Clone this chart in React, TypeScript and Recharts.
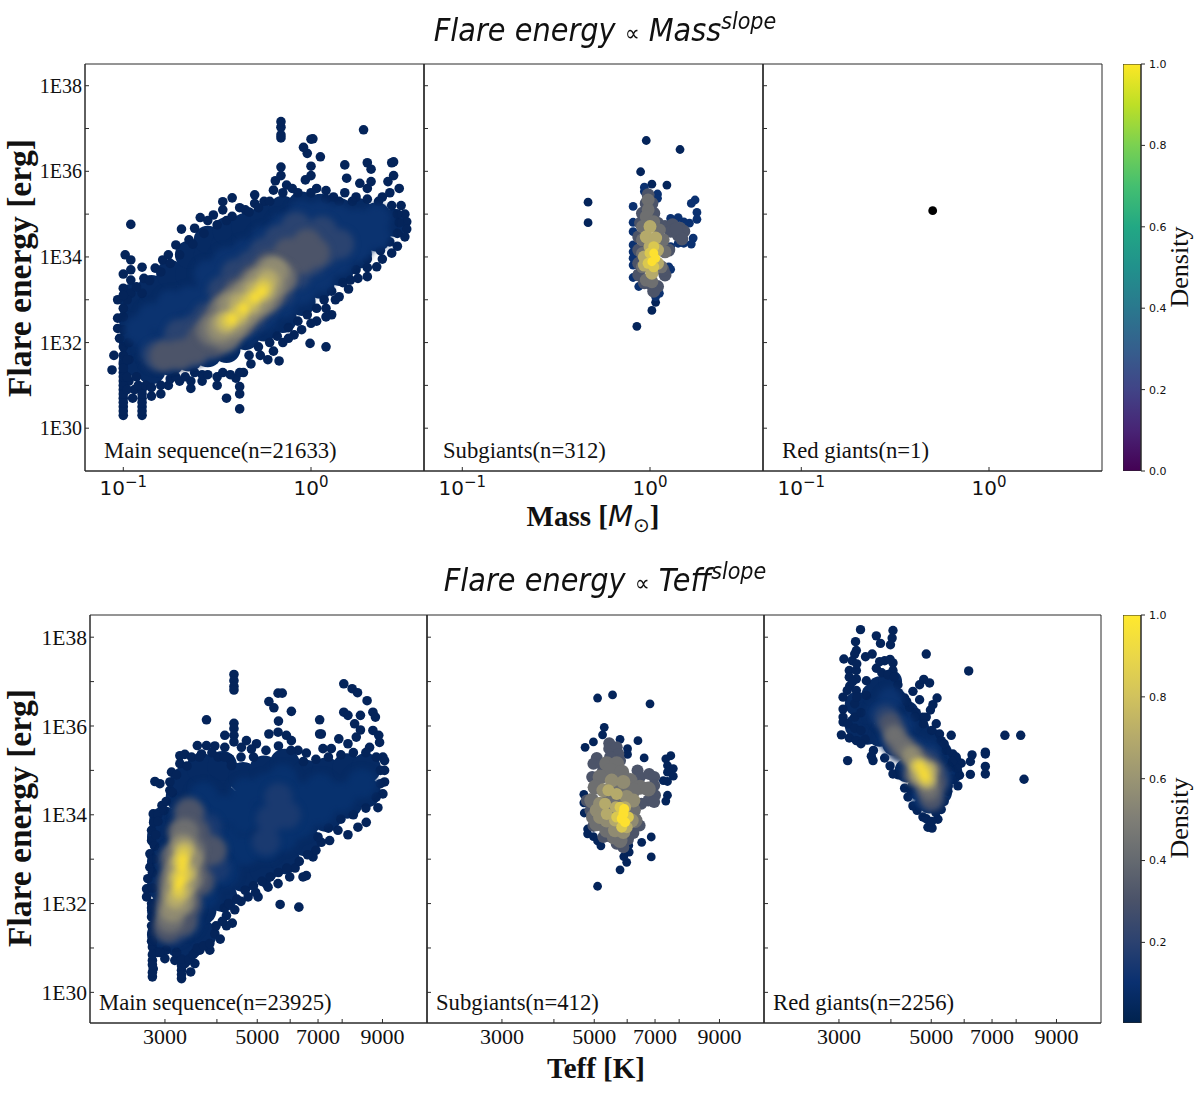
import { Bar, BarChart, ReferenceArea, Scatter, ScatterChart, XAxis, YAxis } from "recharts";

type Pt = [number, number];

// x = log10(mass) or log10(Teff), y = log10(flare energy)
// -------------------------
// MASS / MAIN SEQUENCE
// -------------------------
const msMassEdge: Pt[] = [
  [-1, 30.3], [-1, 30.5], [-1, 30.7], [-1, 30.9], [-1, 31.1], [-1, 31.3], [-1, 31.5], [-1, 31.7], [-1, 31.9], [-1.02, 32.1],
  [-1.06, 31.36], [-1.05, 31.7], [-1.03, 32.33], [-1.03, 32.57], [-1, 32.8], [-1.03, 33], [-1, 33.27], [-1, 33.6], [-0.99, 34.05], [-0.96, 34.76],
  [-0.96, 33.93], [-0.96, 33.7], [-0.96, 33.46], [-0.96, 33.15], [-0.9, 33.76], [-0.89, 33.5], [-0.9, 33.15], [-0.83, 33.74], [-0.79, 33.93], [-0.76, 34.05],
  [-0.72, 34.28], [-0.69, 34.65], [-0.65, 34.4], [-0.62, 34.67], [-0.59, 34.92], [-0.55, 34.85], [-0.52, 34.98], [-0.47, 35.29], [-0.47, 35.1], [-0.45, 34.85],
  [-0.42, 35.38], [-0.38, 35.15], [-0.35, 35.1], [-0.3, 35.45], [-0.3, 35.25], [-0.25, 35.3], [-0.2, 35.56], [-0.19, 35.78], [-0.16, 35.9], [-0.16, 36.1],
  [-0.16, 36.78], [-0.16, 36.85], [-0.16, 37.03], [-0.16, 37.16], [-0.13, 35.68], [-0.1, 35.6], [-0.03, 35.8], [0, 35.9], [0, 36.12], [-0.02, 36.42],
  [-0.04, 36.56], [0, 36.75], [0.01, 36.76], [0.05, 36.34], [0.03, 35.6], [0.08, 35.55], [0.12, 35.4], [0.18, 35.5], [0.18, 36.15], [0.19, 35.84],
  [0.24, 35.4], [0.26, 35.72], [0.3, 35.6], [0.28, 36.97], [0.3, 36.2], [0.32, 36.05], [0.32, 35.76], [0.38, 35.4], [0.42, 35.5], [0.41, 35.76],
  [0.43, 36.2], [0.44, 36.22], [0.44, 35.9], [0.47, 35.6], [0.48, 35.2], [0.5, 35], [0.51, 34.82], [0.51, 34.65], [0.5, 34.47], [0.46, 34.25],
  [0.43, 34.09], [0.38, 33.95], [0.35, 33.77], [0.3, 33.75], [0.3, 33.54], [0.25, 33.5], [0.21, 33.46], [0.2, 33.25], [0.15, 33.07], [0.13, 33],
  [0.11, 32.65], [0.08, 32.6], [0.08, 32.8], [0.08, 31.9], [0.03, 32.5], [0, 32.45], [-0.005, 31.98], [-0.05, 32.3], [-0.09, 32.18], [-0.12, 32.1],
  [-0.15, 32], [-0.2, 31.8], [-0.17, 31.57], [-0.23, 31.6], [-0.27, 31.7], [-0.32, 31.5], [-0.36, 31.3], [-0.4, 31.17], [-0.38, 30.97], [-0.38, 30.8],
  [-0.38, 30.45], [-0.45, 30.7], [-0.5, 31], [-0.5, 31.2], [-0.58, 31.1], [-0.58, 31.25], [-0.64, 30.93], [-0.64, 31.1], [-0.7, 31.1], [-0.76, 31],
  [-0.8, 30.8], [-0.85, 30.75], [-0.94, 30.9], [-0.95, 30.7], [-0.9, 30.7], [-0.9, 30.5], [-0.9, 30.3], [-0.9, 30.9], [-0.97, 31.1], [-0.97, 31.6],
];
const msMassRim: Pt[] = [
  [-1, 30.4], [-1, 30.6], [-1, 30.8], [-1, 31], [-1, 31.2], [-1, 31.4], [-0.98, 31.6], [-0.98, 31.2], [-0.98, 30.9], [-0.9, 30.4], [-0.9, 30.6], [-0.9, 30.8], [-0.92, 31], [-0.93, 31.2], [-0.88, 31],
  [-0.85, 30.95], [-0.8, 31], [-0.75, 31.15], [-0.72, 31.2], [-0.67, 31.2], [-0.62, 31.3], [-0.55, 31.25], [-0.47, 31.3], [-0.43, 31.25], [-0.38, 31.3], [-0.33, 31.7], [-0.28, 31.9], [-0.22, 32],
  [-0.18, 32.15], [-0.12, 32.35], [-0.07, 32.5], [-0.02, 32.65], [0.03, 32.8], [0.07, 33], [0.11, 33.2], [0.17, 33.4], [0.24, 33.7], [0.3, 33.95], [0.37, 34.15], [0.42, 34.35], [0.46, 34.55],
  [0.47, 34.8], [0.46, 35], [0.43, 35.2], [0.36, 35.3], [0.3, 35.35], [0.22, 35.3], [0.15, 35.3], [0.08, 35.35], [0, 35.5], [-0.07, 35.5], [-0.15, 35.5], [-0.22, 35.3], [-0.28, 35.15], [-0.33, 35.05],
  [-0.42, 34.95], [-0.5, 34.75], [-0.57, 34.55], [-0.63, 34.3], [-0.7, 34.05], [-0.75, 33.85], [-0.8, 33.65], [-0.86, 33.45], [-0.93, 33.3], [-0.98, 33], [-1, 32.6], [-1, 32.3], [-0.97, 32], [-1, 33.1],
];
const msMassFill: Pt[] = [
  [-0.95, 31.55], [-0.95, 32.05], [-0.95, 32.55], [-0.95, 33.05], [-0.85, 31.35], [-0.85, 31.85], [-0.85, 32.35], [-0.85, 32.85], [-0.85, 33.25],
  [-0.75, 31.55], [-0.75, 32.05], [-0.75, 32.55], [-0.75, 33.05], [-0.75, 33.6], [-0.65, 31.65], [-0.65, 32.15], [-0.65, 32.65], [-0.65, 33.15], [-0.65, 33.6], [-0.65, 34.05],
  [-0.55, 31.75], [-0.55, 32.25], [-0.55, 32.75], [-0.55, 33.25], [-0.55, 33.75], [-0.55, 34.05], [-0.55, 34.4], [-0.46, 34.25], [-0.45, 31.85], [-0.45, 32.35], [-0.45, 32.85], [-0.45, 33.35], [-0.45, 33.85], [-0.45, 34.6],
  [-0.35, 32.15], [-0.35, 32.65], [-0.35, 33.2], [-0.35, 33.7], [-0.35, 34.2], [-0.35, 34.45], [-0.35, 34.7], [-0.25, 32.35], [-0.25, 32.9], [-0.25, 33.4], [-0.25, 33.9], [-0.25, 34.4], [-0.25, 34.65], [-0.25, 34.9],
  [-0.15, 32.55], [-0.15, 33.1], [-0.15, 33.6], [-0.15, 34.1], [-0.15, 34.6], [-0.15, 35.1], [-0.05, 32.95], [-0.05, 33.45], [-0.05, 33.95], [-0.05, 34.45], [-0.05, 35.2],
  [0.05, 33.35], [0.05, 33.85], [0.05, 34.35], [0.05, 34.85], [0.05, 35.15], [0.15, 33.65], [0.15, 34.15], [0.15, 34.65], [0.15, 35.05],
  [0.25, 34.05], [0.25, 34.55], [0.25, 35.05], [0.35, 34.45], [0.35, 34.95], [0.44, 34.8],
];
const msMassBlue: Pt[] = [
  [-0.92, 32.3], [-0.85, 31.9], [-0.85, 32.6], [-0.75, 31.7], [-0.75, 32.3], [-0.75, 32.9], [-0.65, 31.8], [-0.65, 32.4], [-0.65, 33], [-0.55, 31.9], [-0.55, 32.5], [-0.55, 33.1], [-0.55, 33.6],
  [-0.45, 32.1], [-0.45, 32.7], [-0.45, 33.3], [-0.45, 33.9], [-0.35, 32.3], [-0.35, 32.9], [-0.35, 33.5], [-0.35, 34.1], [-0.25, 32.6], [-0.25, 33.2], [-0.25, 33.8], [-0.25, 34.4],
  [-0.15, 32.9], [-0.15, 33.5], [-0.15, 34.1], [-0.15, 34.7], [-0.05, 33.2], [-0.05, 33.8], [-0.05, 34.4], [-0.05, 35], [0.05, 33.5], [0.05, 34.1], [0.05, 34.7], [0.05, 35],
  [0.15, 33.9], [0.15, 34.5], [0.15, 34.9], [0.25, 34.2], [0.25, 34.8], [0.35, 34.5], [0.35, 34.9],
];
const msMassSlate: Pt[] = [
  [-0.82, 31.7], [-0.75, 31.8], [-0.7, 31.75], [-0.7, 32.2], [-0.62, 31.8], [-0.62, 32.3], [-0.55, 32], [-0.55, 32.6], [-0.47, 32.1], [-0.47, 32.7], [-0.47, 33.2],
  [-0.4, 32.4], [-0.4, 33], [-0.4, 33.6], [-0.32, 32.6], [-0.32, 33.2], [-0.32, 33.8], [-0.25, 32.9], [-0.25, 33.5], [-0.25, 34.1], [-0.17, 33.2], [-0.17, 33.8], [-0.17, 34.4],
  [-0.08, 33.6], [-0.08, 34.2], [-0.08, 34.7], [0, 33.9], [0, 34.4], [0.06, 34.1], [0.06, 34.6], [0.15, 34.3],
];
const msMassGrayBlue: Pt[] = [
  [-0.78, 31.68], [-0.7, 31.72], [-0.62, 31.85], [-0.58, 32.1], [-0.52, 32], [-0.5, 32.5], [-0.44, 32.3], [-0.44, 32.9], [-0.38, 32.5], [-0.38, 33.2],
  [-0.3, 32.9], [-0.3, 33.5], [-0.22, 33.2], [-0.22, 33.8], [-0.15, 33.6], [-0.12, 34.1], [-0.05, 33.95], [-0.02, 34.3], [0.02, 34.1],
];
const msMassGray: Pt[] = [
  [-0.52, 32.3], [-0.46, 32.2], [-0.46, 32.7], [-0.4, 32.5], [-0.38, 33], [-0.32, 32.85], [-0.3, 33.3], [-0.24, 33.1], [-0.22, 33.6], [-0.17, 33.5],
];
const msMassKhaki: Pt[] = [[-0.48, 32.35], [-0.42, 32.45], [-0.42, 32.85], [-0.36, 32.7], [-0.34, 33.1], [-0.28, 33], [-0.27, 33.4], [-0.22, 33.35], [-0.2, 33.65]];
const msMassSand: Pt[] = [[-0.46, 32.45], [-0.4, 32.6], [-0.38, 32.9], [-0.32, 32.9], [-0.3, 33.2], [-0.25, 33.2], [-0.23, 33.45]];
const msMassGold: Pt[] = [[-0.44, 32.5], [-0.38, 32.7], [-0.33, 32.95], [-0.28, 33.15], [-0.25, 33.3]];
const msMassPeak: Pt[] = [[-0.42, 32.55], [-0.36, 32.8], [-0.3, 33.05], [-0.26, 33.2]];

// -------------------------
// MASS / SUBGIANTS
// -------------------------
const sgMassEdge: Pt[] = [[-0.33, 35.28], [-0.33, 34.8], [-0.02, 36.72], [0.16, 36.51], [-0.05, 35.99], [0.01, 35.7], [0.09, 35.68], [-0.07, 32.38], [0.01, 32.75], [0.03, 32.94]];
const sgMassBlue: Pt[] = [
  [-0.03, 35.63], [-0.03, 35.53], [0.04, 35.47], [0.04, 35.37], [-0.09, 35.18], [-0.09, 34.81], [-0.09, 34.59], [-0.09, 34.28], [-0.09, 34.12], [-0.09, 33.97], [-0.09, 33.81], [-0.09, 33.52],
  [-0.06, 33.31], [0.03, 33.07], [0.05, 33.15], [0.24, 35.33], [0.22, 35.25], [0.25, 35.04], [0.25, 34.88], [0.21, 34.79], [0.23, 34.44], [0.22, 34.3], [0.18, 34.32], [0.15, 34.32], [0.11, 34.24],
  [0.1, 33.77], [0.11, 33.71], [0.18, 34.82], [0.15, 34.92], [0.11, 34.9],
];
const sgMassSlate: Pt[] = [
  [-0.01, 35.45], [-0.02, 35.25], [0.01, 35.25], [-0.04, 35.02], [0.02, 35.02], [-0.05, 34.79], [0.04, 34.79], [0.08, 34.71], [0.12, 34.75], [0.16, 34.67], [0.18, 34.6], [0.11, 34.6], [0.15, 34.51],
  [-0.06, 34.47], [-0.06, 34.16], [-0.06, 33.85], [-0.06, 33.58], [0, 33.39], [0.04, 33.31], [0.08, 33.58], [0.1, 34.16], [0.17, 34.42], [0.14, 34.66], [0.02, 33.2], [0.07, 33.7], [-0.03, 33.4],
];
const sgMassGray: Pt[] = [
  [-0.01, 35.33], [-0.01, 35.1], [-0.02, 34.94], [0.02, 34.82], [-0.04, 34.71], [0.05, 34.63], [-0.04, 34.4], [0.07, 34.4], [-0.04, 34.08], [0.08, 34.12], [-0.04, 33.77], [0.06, 33.77], [-0.02, 33.46], [0.01, 33.42],
];
const sgMassKhaki: Pt[] = [[0, 34.71], [-0.02, 34.47], [0.03, 34.44], [0, 34.24], [-0.03, 34], [0.04, 34.16], [-0.03, 33.81], [0.04, 33.85], [0.01, 33.62]];
const sgMassGold: Pt[] = [[0, 34.09], [0.02, 34.24], [-0.01, 33.85], [0.02, 33.77]];
const sgMassPeak: Pt[] = [[0.02, 34.09], [0.03, 33.97], [0.01, 33.89]];

// -------------------------
// MASS / RED GIANTS
// -------------------------
const rgMassPoint: Pt[] = [[-0.3, 35.08]];

// -------------------------
// TEFF / MAIN SEQUENCE
// -------------------------
const msTeffEdge: Pt[] = [
  [3.433, 32.15], [3.433, 32.33], [3.436, 32.56], [3.445, 31.7], [3.447, 31.32], [3.447, 31.02], [3.447, 30.72], [3.447, 30.35], [3.449, 30.53], [3.441, 32.82], [3.441, 33.12], [3.445, 33.42], [3.445, 33.65],
  [3.449, 34.02], [3.45, 33.83], [3.47, 34.21], [3.465, 34.7], [3.453, 34.75], [3.445, 31.5], [3.445, 31.15], [3.445, 32], [3.46, 34], [3.475, 34.1], [3.493, 34.96], [3.489, 34.74], [3.489, 34.55], [3.513, 35.33], [3.525, 35.36], [3.513, 35.15],
  [3.555, 35.56], [3.577, 36.14], [3.577, 35.56], [3.597, 35.55], [3.621, 35.79], [3.621, 35.52], [3.605, 35.3], [3.565, 35.37], [3.541, 35.3], [3.633, 35.26], [3.637, 35.11],
  [3.643, 37.16], [3.643, 37.02], [3.643, 36.89], [3.643, 36.81], [3.643, 36.06], [3.643, 35.94], [3.643, 35.79], [3.643, 35.64], [3.661, 35.52], [3.673, 35.67], [3.697, 35.6], [3.685, 35.48],
  [3.727, 35.82], [3.727, 36.55], [3.739, 36.41], [3.749, 36.74], [3.759, 36.74], [3.75, 36.11], [3.781, 36.33], [3.749, 35.86], [3.769, 35.79], [3.781, 35.67], [3.797, 35.45], [3.817, 35.39],
  [3.849, 36.14], [3.849, 35.82], [3.853, 35.82], [3.895, 35.71], [3.857, 35.49], [3.877, 35.49], [3.907, 36.95], [3.927, 36.84], [3.94, 36.75], [3.963, 36.57], [3.907, 36.31], [3.917, 36.24], [3.947, 36.24], [3.933, 36.05],
  [3.947, 35.91], [3.977, 36.31], [3.983, 36.2], [3.977, 35.9], [3.991, 35.79], [3.993, 35.63], [3.937, 35.75], [3.917, 35.6], [3.969, 35.52], [4.001, 35.3], [4.005, 35.22], [4.005, 35], [4.005, 34.74], [4.001, 34.47],
  [3.989, 34.16], [3.961, 33.83], [3.941, 33.72], [3.917, 33.55], [3.873, 33.42], [3.893, 33.65], [3.853, 33.38], [3.833, 33.05], [3.817, 32.63], [3.809, 32.6], [3.799, 31.92], [3.754, 31.98], [3.749, 32.45], [3.777, 32.6],
  [3.725, 32.37], [3.701, 32.15], [3.677, 32.15], [3.645, 31.86], [3.639, 31.56], [3.625, 31.73], [3.597, 31.32], [3.585, 30.95], [3.561, 30.95], [3.549, 30.65], [3.539, 30.46], [3.517, 30.31], [3.517, 30.5], [3.501, 30.72], [3.477, 30.76],
  [3.46, 30.9], [3.48, 30.95], [3.53, 30.7], [3.55, 30.9], [3.61, 31.2], [3.625, 31.5], [3.66, 32.05], [3.695, 32.25], [3.72, 32.45], [3.79, 32.8], [3.84, 33.2],
];
const msTeffRim: Pt[] = [
  [3.447, 30.45], [3.447, 30.62], [3.447, 30.85], [3.447, 31.15], [3.45, 31.5], [3.445, 31.9], [3.447, 32.35], [3.447, 32.7], [3.45, 33], [3.452, 33.3], [3.455, 33.55], [3.46, 33.85], [3.465, 30.9],
  [3.517, 30.4], [3.517, 30.6], [3.525, 30.65], [3.517, 30.75], [3.505, 30.9], [3.535, 30.75], [3.545, 30.85], [3.555, 31], [3.57, 31.05], [3.585, 31.1], [3.6, 31.5], [3.615, 31.6], [3.62, 31.9], [3.63, 32],
  [3.65, 32.1], [3.67, 32.3], [3.69, 32.4], [3.71, 32.5], [3.73, 32.6], [3.75, 32.7], [3.77, 32.8], [3.8, 32.95], [3.82, 33.1], [3.845, 33.5], [3.87, 33.7], [3.9, 33.9], [3.93, 34], [3.96, 34.15], [3.985, 34.4],
  [3.995, 34.7], [3.995, 35], [3.985, 35.3], [3.96, 35.4], [3.93, 35.4], [3.9, 35.35], [3.87, 35.3], [3.84, 35.25], [3.81, 35.2], [3.78, 35.45], [3.75, 35.55], [3.72, 35.45], [3.69, 35.3], [3.66, 35.3],
  [3.62, 35.3], [3.59, 35.4], [3.56, 35.3], [3.53, 35.1], [3.505, 34.9], [3.495, 34.5], [3.48, 34.3],
];
const msTeffFill: Pt[] = [
  [3.47, 31.3], [3.47, 31.85], [3.47, 32.4], [3.47, 32.95], [3.47, 33.5], [3.475, 33.85], [3.515, 31.1], [3.515, 31.65], [3.515, 32.2], [3.515, 32.75], [3.515, 33.3], [3.515, 33.85], [3.515, 34.4], [3.525, 34.75],
  [3.565, 31.3], [3.565, 31.85], [3.565, 32.4], [3.565, 32.95], [3.565, 33.5], [3.565, 34.05], [3.565, 34.6], [3.565, 35.05], [3.615, 32.15], [3.615, 32.7], [3.615, 33.25], [3.615, 33.8], [3.615, 34.35], [3.615, 34.9], [3.615, 35.1],
  [3.665, 32.6], [3.665, 33.15], [3.665, 33.7], [3.665, 34.25], [3.665, 34.85], [3.715, 32.8], [3.715, 33.35], [3.715, 33.9], [3.715, 34.45], [3.715, 35], [3.765, 33], [3.765, 33.55], [3.765, 34.1], [3.765, 34.65], [3.765, 35.15],
  [3.815, 33.4], [3.815, 33.85], [3.815, 34.4], [3.815, 34.9], [3.865, 33.95], [3.865, 34.4], [3.865, 34.95], [3.915, 34.25], [3.915, 34.7], [3.915, 35.05], [3.96, 34.5], [3.96, 35.05],
];
const msTeffBlue: Pt[] = [
  [3.5, 32], [3.5, 33], [3.53, 31.6], [3.53, 32.4], [3.53, 33.2], [3.53, 34], [3.57, 32.2], [3.57, 33], [3.57, 33.7], [3.57, 34.4], [3.62, 32.7], [3.62, 33.4], [3.62, 34.1], [3.67, 33.2], [3.67, 33.9], [3.67, 34.5],
  [3.72, 33.3], [3.72, 34], [3.72, 34.6], [3.76, 33.5], [3.76, 34.2], [3.76, 34.8], [3.8, 33.8], [3.8, 34.4], [3.85, 34.1], [3.85, 34.6], [3.9, 34.4], [3.95, 34.7],
];
const msTeffSlate: Pt[] = [
  [3.72, 33.4], [3.73, 33.9], [3.75, 34.4], [3.77, 34], [3.5, 32], [3.51, 32.7], [3.5, 31.4], [3.53, 31.9], [3.53, 33.3], [3.55, 33.9], [3.55, 32.6], [3.58, 33.1], [3.58, 33.7], [3.6, 32.8],
];
const msTeffGrayBlue: Pt[] = [
  [3.485, 31.45], [3.49, 31.9], [3.495, 32.4], [3.5, 33], [3.52, 33.6], [3.535, 34.05], [3.55, 33.6], [3.56, 33.1], [3.56, 32.5], [3.59, 33.2], [3.53, 32], [3.52, 31.6],
];
const msTeffGray: Pt[] = [[3.49, 31.65], [3.497, 32.1], [3.5, 32.6], [3.51, 33.1], [3.525, 33.6], [3.54, 33.2], [3.54, 32.6], [3.52, 32.1]];
const msTeffKhaki: Pt[] = [[3.495, 31.85], [3.5, 32.3], [3.51, 32.8], [3.52, 33.3], [3.54, 33], [3.53, 32.5], [3.515, 32]];
const msTeffSand: Pt[] = [[3.503, 32.1], [3.507, 32.55], [3.515, 32.95], [3.525, 33.2], [3.53, 32.7], [3.52, 32.3]];
const msTeffGold: Pt[] = [[3.51, 32.25], [3.512, 32.6], [3.517, 32.95], [3.522, 33.15], [3.525, 32.65]];
const msTeffPeak: Pt[] = [[3.51, 32.4], [3.516, 32.55], [3.518, 32.8], [3.52, 33]];

// -------------------------
// TEFF / SUBGIANTS
// -------------------------
const sgTeffEdge: Pt[] = [
  [3.707, 36.63], [3.743, 36.7], [3.833, 36.5], [3.723, 35.97], [3.719, 35.8], [3.761, 35.7], [3.804, 35.67], [3.697, 35.64], [3.677, 35.52], [3.779, 35.49], [3.779, 35.36], [3.819, 35.28], [3.883, 35.33], [3.871, 35.26],
  [3.875, 35.11], [3.889, 35.04], [3.875, 34.96], [3.889, 34.87], [3.875, 34.75], [3.865, 34.77], [3.875, 34.44], [3.871, 34.31], [3.674, 34.46], [3.674, 34.27], [3.675, 34.04], [3.683, 33.68], [3.683, 33.57], [3.697, 33.51],
  [3.707, 33.41], [3.715, 33.3], [3.836, 33.5], [3.813, 33.38], [3.836, 33.05], [3.777, 32.93], [3.761, 32.76], [3.707, 32.39], [3.783, 33.16], [3.77, 33.06], [3.782, 33.31],
];
const sgTeffSlate: Pt[] = [
  [3.735, 35.61], [3.735, 35.49], [3.753, 35.52], [3.757, 35.37], [3.705, 35.28], [3.697, 35.15], [3.737, 35.3], [3.717, 35.15], [3.761, 35.22], [3.694, 34.85], [3.803, 35], [3.809, 34.85], [3.831, 34.92], [3.843, 34.85],
  [3.843, 34.66], [3.845, 34.44], [3.829, 34.32], [3.843, 34.29], [3.681, 34.32], [3.812, 34.25], [3.808, 33.76], [3.793, 33.59], [3.769, 33.27], [3.753, 33.35], [3.721, 33.5], [3.697, 33.75],
  [3.72, 35], [3.745, 35.1], [3.7, 34.6], [3.69, 34.1], [3.82, 34.6], [3.835, 34.55], [3.74, 33.5], [3.78, 33.45],
];
const sgTeffGray: Pt[] = [
  [3.729, 35.15], [3.753, 35.15], [3.737, 35], [3.765, 34.96], [3.713, 34.85], [3.785, 34.77], [3.809, 34.62], [3.829, 34.58], [3.701, 34.62], [3.693, 34.32], [3.697, 33.95], [3.705, 33.8], [3.729, 33.65], [3.793, 34.1],
  [3.797, 33.87], [3.793, 34.55], [3.761, 33.42], [3.747, 33.5], [3.745, 34.62], [3.76, 34.6], [3.735, 34.4], [3.765, 34.35], [3.74, 34.1], [3.76, 33.8], [3.74, 33.75], [3.72, 34.1], [3.785, 34.05],
];
const sgTeffKhaki: Pt[] = [
  [3.741, 34.77], [3.769, 34.74], [3.721, 34.55], [3.713, 34.25], [3.705, 34.1], [3.713, 33.95], [3.729, 33.87], [3.777, 34.4], [3.793, 34.32], [3.749, 33.65], [3.769, 33.61], [3.789, 33.87],
];
const sgTeffSand: Pt[] = [[3.733, 34.55], [3.753, 34.47], [3.725, 34.25], [3.751, 34.17], [3.729, 34.02], [3.773, 34.17], [3.749, 33.87], [3.777, 33.72]];
const sgTeffGold: Pt[] = [[3.761, 34.17], [3.753, 33.95], [3.765, 33.72], [3.781, 33.95]];
const sgTeffPeak: Pt[] = [[3.769, 34.02], [3.765, 33.91], [3.773, 33.83], [3.771, 34.13]];

// -------------------------
// TEFF / RED GIANTS
// -------------------------
const rgTeffEdge: Pt[] = [
  [3.529, 38.17], [3.567, 38.03], [3.607, 38.15], [3.605, 37.98], [3.601, 37.83], [3.577, 37.86], [3.517, 37.9], [3.519, 37.7], [3.515, 37.62], [3.489, 37.51], [3.509, 37.47], [3.541, 37.56], [3.557, 37.62], [3.687, 37.62], [3.789, 37.24],
  [3.567, 37.3], [3.587, 37.47], [3.607, 37.42], [3.607, 37.25], [3.502, 37.25], [3.519, 37.25], [3.502, 37.1], [3.519, 37.06], [3.503, 36.9], [3.519, 36.8], [3.487, 36.65], [3.497, 36.8], [3.543, 37.02], [3.543, 36.69], [3.487, 36.38], [3.487, 36.2],
  [3.487, 36.09], [3.499, 36.05], [3.483, 35.8], [3.502, 35.73], [3.519, 35.67], [3.498, 35.22], [3.555, 35.32], [3.559, 35.22], [3.587, 35.28], [3.607, 34.92], [3.643, 34.4], [3.655, 34.2], [3.679, 33.95], [3.691, 33.72], [3.701, 33.7], [3.687, 33.91],
  [3.715, 33.9], [3.723, 34.12], [3.739, 34.53], [3.763, 34.65], [3.767, 34.89], [3.793, 34.91], [3.771, 35.16], [3.793, 35.2], [3.797, 35.35], [3.829, 35.41], [3.829, 35.37], [3.829, 35.09], [3.829, 34.92], [3.876, 35.79], [3.914, 35.79], [3.922, 34.8],
  [3.747, 35.79], [3.751, 35.37], [3.719, 35.82], [3.711, 36.05], [3.687, 36.2], [3.697, 36.36], [3.703, 36.48], [3.713, 36.63], [3.671, 36.59], [3.679, 36.2], [3.655, 36.78], [3.671, 36.93], [3.681, 37.05], [3.695, 36.97], [3.635, 36.63], [3.619, 36.93],
  [3.647, 36.42], [3.663, 36.3], [3.723, 35.67], [3.735, 35.45], [3.759, 35.3], [3.743, 35.07], [3.515, 36.5], [3.515, 36.2], [3.515, 35.95], [3.52, 37.4], [3.53, 36.3], [3.53, 35.9], [3.54, 35.7], [3.62, 34.9], [3.635, 34.6], [3.76, 35.05], [3.75, 34.8],
  [3.73, 34.3], [3.7, 33.85], [3.665, 34.1], [3.58, 37.2], [3.595, 37.15], [3.575, 37.45], [3.6, 37.5], [3.51, 37.0], [3.52, 36.65], [3.53, 35.6], [3.56, 35.45], [3.6, 35.1], [3.61, 37.1], [3.62, 36.75], [3.64, 36.55], [3.66, 36.2], [3.68, 36.05], [3.7, 35.9],
  [3.73, 35.6], [3.75, 35.2], [3.74, 34.65], [3.65, 34.55], [3.67, 34.25], [3.71, 34.05],
];
const rgTeffFill: Pt[] = [
  [3.52, 36], [3.52, 36.5], [3.545, 35.85], [3.545, 36.3], [3.56, 36.7], [3.575, 35.8], [3.575, 36.3], [3.575, 36.85], [3.61, 35.6], [3.61, 36.1], [3.61, 36.6], [3.6, 37], [3.64, 35], [3.64, 35.5], [3.64, 36], [3.64, 36.3],
  [3.67, 34.6], [3.67, 35.1], [3.67, 35.6], [3.665, 35.95], [3.695, 34.3], [3.695, 34.8], [3.695, 35.3], [3.695, 35.7], [3.72, 34.5], [3.72, 35], [3.72, 35.4], [3.745, 34.95], [3.745, 35.15],
];
const rgTeffBlue: Pt[] = [[3.575, 36.3], [3.6, 36.6], [3.6, 36.1], [3.6, 35.7], [3.63, 35.5], [3.63, 36], [3.66, 35.5], [3.66, 35], [3.69, 34.8], [3.69, 35.4], [3.72, 34.8], [3.68, 34.4]];
const rgTeffSlate: Pt[] = [[3.59, 36.2], [3.61, 35.9], [3.62, 35.5], [3.65, 35.4], [3.66, 35], [3.69, 35.2], [3.69, 34.7], [3.7, 34.4], [3.71, 34.9], [3.68, 35]];
const rgTeffGrayBlue: Pt[] = [[3.6, 36.05], [3.615, 35.7], [3.635, 35.5], [3.66, 35.3], [3.68, 35.1], [3.7, 35], [3.69, 34.6], [3.7, 34.35], [3.66, 34.9], [3.71, 34.7]];
const rgTeffGray: Pt[] = [[3.61, 35.8], [3.63, 35.55], [3.655, 35.3], [3.675, 35.1], [3.68, 34.8], [3.695, 34.55]];
const rgTeffKhaki: Pt[] = [[3.65, 35.35], [3.67, 35.1], [3.665, 34.9], [3.69, 34.75], [3.695, 35]];
const rgTeffSand: Pt[] = [[3.665, 35.1], [3.675, 34.9], [3.69, 34.8], [3.69, 35]];
const rgTeffGold: Pt[] = [[3.668, 35.1], [3.677, 34.95], [3.687, 34.8], [3.685, 35]];
const rgTeffPeak: Pt[] = [[3.672, 35.1], [3.68, 34.95], [3.685, 34.85]];

// -------------------------
// TICKS
// -------------------------
const energyTicks = [30, 31, 32, 33, 34, 35, 36, 37, 38];
const massTicks = [-1, 0];
const teffTicks = [3000, 4000, 5000, 6000, 7000, 8000, 10000];
const teffTickLabels = ["3000", "", "5000", "", "7000", "", "9000"];
const densityTicks = [0, 0.2, 0.4, 0.6, 0.8, 1];
const densityTicksBottom = [0.2, 0.4, 0.6, 0.8, 1];

// colours, low to high density
const EDGE = "#04245a";
const FILL = "#062a63";
const BLUE = "#0b3370";
const SLATE = "#2a4370";
const GRAYBLUE = "#4c5469";
const GRAY = "#6e6f70";
const KHAKI = "#908b72";
const SAND = "#b5aa6b";
const GOLD = "#dac850";
const PEAK = "#fde030";

const viridisStops = ["#440154", "#482475", "#414487", "#355f8d", "#2a788e", "#21918c", "#22a884", "#44bf70", "#7ad151", "#bddf26", "#fde725"];
const cividisStops = ["#00224e", "#0a3070", "#2c4270", "#4a5269", "#656a70", "#7f7e76", "#9a9573", "#b5aa6b", "#d1c25d", "#ead748", "#ffe92d"];

type Layer = { points: Pt[]; color: string; r: number; soft?: boolean };

const layer = (points: Pt[], color: string, r: number, soft = false): Layer => ({ points, color, r, soft });

const AXIS_W = 60;
const AXIS_H = 40;
const PAD = 5;
const BAR_PAD = 12;
const LINE = "#2b2b2b";
const SERIF = '"Liberation Serif", serif';
const SANS = '"DejaVu Sans", sans-serif';

const massDomain: [number, number] = [-1.204, 0.602];
const teffDomain: [number, number] = [3.297, 4.107];
const energyDomainTop: [number, number] = [29.0, 38.507];
const energyDomainBottom: [number, number] = [29.31, 38.5];

function MassTick({ x, y, payload }: any) {
  return (
    <text x={x} y={y + 20} textAnchor="middle" fontFamily={SANS} fontSize={20} fill="#111">
      <tspan dy={6}>10</tspan>
      <tspan dy={-8} fontSize={15}>{payload.value !== 0 ? "\u2212" + Math.abs(payload.value) : "0"}</tspan>
    </text>
  );
}

type PanelProps = {
  left: number;
  top: number;
  width: number;
  height: number;
  layers: Layer[];
  kind: "mass" | "teff";
  energyDomain: [number, number];
  energyFont: number;
  showEnergy: boolean;
  label: string;
  labelLeft: number;
};

function Panel({ left, top, width, height, layers, kind, energyDomain, energyFont, showEnergy, label, labelLeft }: PanelProps) {
  const xDomain = kind === "mass" ? massDomain : teffDomain;
  return (
    <div style={{ position: "absolute", left: left - AXIS_W, top: top - PAD }}>
      <ScatterChart
        width={width + AXIS_W + PAD}
        height={height + PAD + AXIS_H}
        margin={{ top: PAD, right: PAD, bottom: 0, left: 0 }}
      >
        {kind === "mass" ? (
          <XAxis
            type="number"
            dataKey="x"
            domain={xDomain}
            ticks={massTicks}
            interval={0}
            height={AXIS_H}
            tickSize={-4}
            tick={<MassTick />}
            stroke={LINE}
            allowDataOverflow
          />
        ) : (
          <XAxis
            type="number"
            dataKey="x"
            domain={xDomain}
            ticks={teffTicks.map((t) => Math.log10(t))}
            interval={0}
            height={AXIS_H}
            tickSize={-4}
            tickMargin={9}
            tickFormatter={(_: number, i: number) => teffTickLabels[i]}
            tick={{ fontFamily: SERIF, fontSize: 22, fill: "#111" }}
            stroke={LINE}
            allowDataOverflow
          />
        )}
        <YAxis
          type="number"
          dataKey="y"
          domain={energyDomain}
          ticks={energyTicks}
          interval={0}
          width={AXIS_W}
          tickSize={-4}
          tickMargin={7}
          tickFormatter={(v: number) => (showEnergy && v % 2 === 0 ? `1E${v}` : "")}
          tick={{ fontFamily: SERIF, fontSize: energyFont, fill: "#111" }}
          stroke={LINE}
          allowDataOverflow
        />
        <ReferenceArea x1={xDomain[0]} x2={xDomain[1]} y1={energyDomain[0]} y2={energyDomain[1]} fill="none" stroke={LINE} />
        {layers.map((l, i) => (
          <Scatter
            key={i}
            className={l.soft ? "soft-layer" : undefined}
            data={l.points.map(([x, y]) => ({ x, y }))}
            isAnimationActive={false}
            shape={(p: any) => <circle cx={p.cx} cy={p.cy} r={l.r} fill={l.color} />}
          />
        ))}
      </ScatterChart>
      <div
        style={{
          position: "absolute",
          left: AXIS_W + labelLeft,
          top: PAD + height - 33,
          fontFamily: SERIF,
          fontSize: 22.7,
          color: "#111",
          whiteSpace: "nowrap",
        }}
      >
        {label}
      </div>
    </div>
  );
}

function DensityBar({ left, top, height, stops, ticks, domain }: any) {
  const id = `bar${top}`;
  return (
    <div style={{ position: "absolute", left, top: top - BAR_PAD }}>
      <BarChart
        width={62}
        height={height + 2 * BAR_PAD}
        data={[{ name: "density", value: 1 }]}
        margin={{ top: BAR_PAD, right: 0, bottom: BAR_PAD, left: 0 }}
        barCategoryGap={0}
      >
        <defs>
          <linearGradient id={id} x1="0" y1="1" x2="0" y2="0">
            {stops.map((c: string, i: number) => (
              <stop key={i} offset={`${i * 10}%`} stopColor={c} />
            ))}
          </linearGradient>
        </defs>
        <XAxis dataKey="name" hide />
        <YAxis
          orientation="right"
          type="number"
          domain={domain}
          ticks={ticks}
          interval={0}
          width={44}
          tickSize={4}
          tickMargin={4}
          tickFormatter={(v: number) => v.toFixed(1)}
          tick={{ fontFamily: SANS, fontSize: 11, fill: "#111" }}
          stroke={LINE}
          allowDataOverflow
        />
        <Bar dataKey="value" fill={`url(#${id})`} stroke={LINE} isAnimationActive={false} />
      </BarChart>
    </div>
  );
}

const rotated = (cx: number, cy: number, size: number, bold: boolean, text: string) => (
  <div
    style={{
      position: "absolute",
      left: cx,
      top: cy,
      transform: "translate(-50%,-50%) rotate(-90deg)",
      fontFamily: SERIF,
      fontSize: size,
      fontWeight: bold ? 700 : 400,
      color: "#111",
      whiteSpace: "nowrap",
    }}
  >
    {text}
  </div>
);

const title = (top: number, quantity: string) => (
  <div
    style={{
      position: "absolute",
      left: 0,
      width: 1210,
      top,
      textAlign: "center",
      transform: "scaleX(0.9)",
      fontFamily: SANS,
      fontStyle: "italic",
      fontSize: 32,
      color: "#111",
      whiteSpace: "nowrap",
    }}
  >
    Flare energy <span style={{ fontStyle: "normal", fontSize: 23 }}>∝</span> {quantity}
    <sup style={{ fontSize: 23, lineHeight: 0 }}>slope</sup>
  </div>
);

export default function App() {
  const topY = 64;
  const topH = 407;
  const botY = 615;
  const botH = 408;

  return (
    <div style={{ position: "absolute", left: 0, top: 0, width: 1200, height: 1095, background: "#fff" }}>
      <style>{`.soft-layer { filter: blur(3px); }`}</style>
      {title(11, "Mass")}
      {title(561, "Teff")}

      <Panel
        left={85} top={topY} width={339} height={topH} kind="mass" energyDomain={energyDomainTop} energyFont={20} showEnergy
        label="Main sequence(n=21633)" labelLeft={19}
        layers={[
          layer(msMassFill, FILL, 14), layer(msMassEdge, EDGE, 4.8), layer(msMassRim, EDGE, 4.8), layer(msMassBlue, BLUE, 14, true), layer(msMassSlate, SLATE, 15, true),
          layer(msMassGrayBlue, GRAYBLUE, 15, true), layer(msMassGray, GRAY, 17, true), layer(msMassKhaki, KHAKI, 15, true), layer(msMassSand, SAND, 11, true),
          layer(msMassGold, GOLD, 8, true), layer(msMassPeak, PEAK, 4.5, true),
        ]}
      />
      <Panel
        left={424} top={topY} width={339} height={topH} kind="mass" energyDomain={energyDomainTop} energyFont={20} showEnergy={false}
        label="Subgiants(n=312)" labelLeft={19}
        layers={[
          layer(sgMassEdge, EDGE, 4.4), layer(sgMassBlue, "#0b3170", 4.4), layer(sgMassSlate, GRAYBLUE, 6.5), layer(sgMassGray, GRAY, 6.5),
          layer(sgMassKhaki, SAND, 6.5), layer(sgMassGold, GOLD, 5.5), layer(sgMassPeak, PEAK, 4.5),
        ]}
      />
      <Panel
        left={763} top={topY} width={339} height={topH} kind="mass" energyDomain={energyDomainTop} energyFont={20} showEnergy={false}
        label="Red giants(n=1)" labelLeft={19}
        layers={[layer(rgMassPoint, "#000", 4.4)]}
      />

      <Panel
        left={90} top={botY} width={337} height={botH} kind="teff" energyDomain={energyDomainBottom} energyFont={21.5} showEnergy
        label="Main sequence(n=23925)" labelLeft={9}
        layers={[
          layer(msTeffFill, FILL, 15), layer(msTeffEdge, EDGE, 4.8), layer(msTeffRim, EDGE, 4.8), layer(msTeffBlue, "#07316e", 15, true), layer(msTeffSlate, "#1a3a70", 14, true),
          layer(msTeffGrayBlue, GRAYBLUE, 15, true), layer(msTeffGray, GRAY, 14, true), layer(msTeffKhaki, KHAKI, 12, true), layer(msTeffSand, SAND, 10, true),
          layer(msTeffGold, GOLD, 7, true), layer(msTeffPeak, PEAK, 4.5, true),
        ]}
      />
      <Panel
        left={427} top={botY} width={337} height={botH} kind="teff" energyDomain={energyDomainBottom} energyFont={21.5} showEnergy={false}
        label="Subgiants(n=412)" labelLeft={9}
        layers={[
          layer(sgTeffEdge, EDGE, 4.4), layer(sgTeffSlate, GRAYBLUE, 6), layer(sgTeffGray, GRAY, 7.5), layer(sgTeffKhaki, KHAKI, 7),
          layer(sgTeffSand, SAND, 6), layer(sgTeffGold, GOLD, 5.5), layer(sgTeffPeak, PEAK, 5),
        ]}
      />
      <Panel
        left={764} top={botY} width={337} height={botH} kind="teff" energyDomain={energyDomainBottom} energyFont={21.5} showEnergy={false}
        label="Red giants(n=2256)" labelLeft={9}
        layers={[
          layer(rgTeffFill, FILL, 12), layer(rgTeffEdge, EDGE, 4.7), layer(rgTeffBlue, BLUE, 12, true), layer(rgTeffSlate, SLATE, 12, true),
          layer(rgTeffGrayBlue, GRAYBLUE, 11, true), layer(rgTeffGray, GRAY, 10, true), layer(rgTeffKhaki, KHAKI, 9, true), layer(rgTeffSand, SAND, 8, true),
          layer(rgTeffGold, GOLD, 6, true), layer(rgTeffPeak, PEAK, 3.5, true),
        ]}
      />

      <DensityBar left={1123} top={topY} height={topH} stops={viridisStops} ticks={densityTicks} domain={[0, 1]} />
      <DensityBar left={1123} top={botY} height={botH} stops={cividisStops} ticks={densityTicksBottom} domain={[0.003, 1]} />

      {rotated(20, 268, 33.5, true, "Flare energy [erg]")}
      {rotated(20, 818, 33.5, true, "Flare energy [erg]")}
      {rotated(1180, 267, 26, false, "Density")}
      {rotated(1180, 818, 26, false, "Density")}

      <div style={{ position: "absolute", left: 593, top: 518, transform: "translate(-50%,-50%)", fontFamily: SERIF, fontWeight: 700, fontSize: 29, color: "#111", whiteSpace: "nowrap" }}>
        Mass [<span style={{ fontFamily: SANS, fontStyle: "italic", fontWeight: 400 }}>M<sub style={{ fontSize: 20, fontStyle: "normal" }}>⊙</sub></span>]
      </div>
      <div style={{ position: "absolute", left: 596, top: 1068, transform: "translate(-50%,-50%)", fontFamily: SERIF, fontWeight: 700, fontSize: 29, color: "#111", whiteSpace: "nowrap" }}>
        Teff [K]
      </div>
    </div>
  );
}
